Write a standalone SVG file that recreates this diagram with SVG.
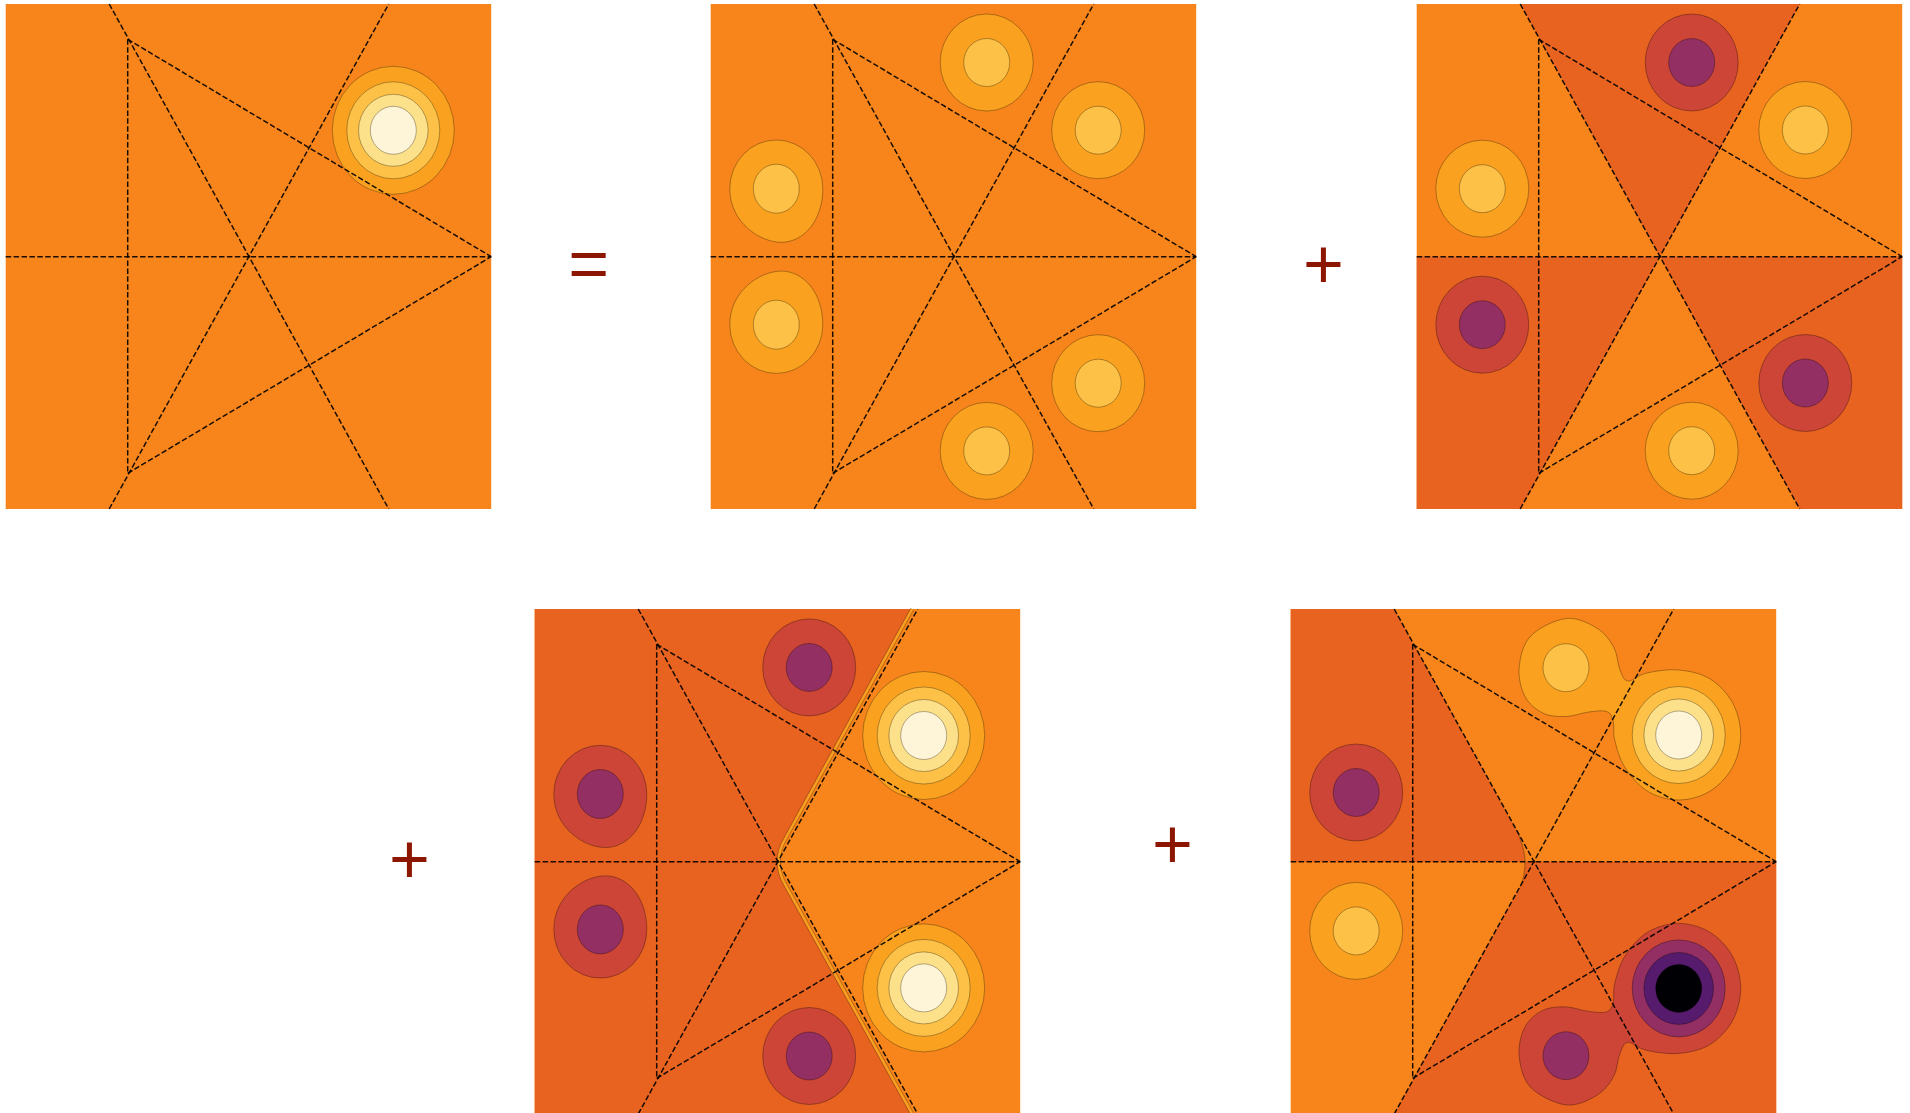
<svg xmlns="http://www.w3.org/2000/svg" xmlns:xlink="http://www.w3.org/1999/xlink" width="1910" height="1113" viewBox="0 0 1910 1113">
<style>
.dl{fill:none;stroke:#000;stroke-width:1.5;stroke-dasharray:5.5 2.4;stroke-opacity:.9}
.c{stroke:#000;stroke-opacity:.3;stroke-width:1}
.lt{fill:#F8851B}.dk{fill:#E8631F}
.p1{fill:#FAA21F}.p2{fill:#FCC146}.p3{fill:#FDE08A}.p4{fill:#FEF5D9}
.n1{fill:#CC4537}.n2{fill:#932F62}.n3{fill:#561B6C}.n4{fill:#000004}
.sign{font-family:"Liberation Sans",Arial,sans-serif;font-size:70px;fill:#8C1600;text-anchor:middle}
</style>
<defs>
<g id="grid" class="dl">
<line x1="0" y1="252.7" x2="485.5" y2="252.7"/>
<line x1="122" y1="35.3" x2="122" y2="469.3"/>
<line x1="122" y1="35.3" x2="485.5" y2="252.7"/>
<line x1="122" y1="469.3" x2="485.5" y2="252.7"/>
<line x1="103.5" y1="0" x2="383" y2="505"/>
<line x1="103.5" y1="505" x2="383" y2="0"/>
</g>
<g id="bright4"><ellipse class="c p1" rx="61" ry="64"/><ellipse class="c p2" rx="46.5" ry="48.5"/><ellipse class="c p3" rx="34.8" ry="36"/><ellipse class="c p4" rx="23" ry="24"/></g>
<g id="light2"><ellipse class="c p1" rx="46.5" ry="48.5"/><ellipse class="c p2" rx="23" ry="24"/></g>
<g id="dark2"><ellipse class="c n1" rx="46.5" ry="48.5"/><ellipse class="c n2" rx="23" ry="24"/></g>
<path id="egg" d="M-46.5,0 A46.5 48.7 0 0 1 46.5,0 C46.5,31 28,53.6 5,53.6 C-16,53.6 -46.5,34 -46.5,0 Z"/>
<g id="eggLight"><use xlink:href="#egg" href="#egg" class="c p1"/><ellipse class="c p2" rx="23" ry="24.5"/></g>
<g id="eggDark"><use xlink:href="#egg" href="#egg" class="c n1"/><ellipse class="c n2" rx="23" ry="24.5"/></g>
<path id="blob" d="M275.3,9.5 C286.3,8.17 298.05,14.25 306,19 C313.95,23.75 319.17,31.17 323,38 C326.83,44.83 326.67,54.33 329,60 C331.33,65.67 332.5,71.33 337,72 C341.5,72.67 347.5,65.83 356,64 C364.5,62.17 377.5,60.05 388,61 C398.5,61.95 410.05,64.28 419,69.7 C427.95,75.12 436.53,84.12 441.7,93.5 C446.87,102.88 450,115.17 450,126 C450,136.83 446.87,149.12 441.7,158.5 C436.53,167.88 427.95,176.88 419,182.3 C410.05,187.72 398.33,191 388,191 C377.67,191 365.95,187.72 357,182.3 C348.05,176.88 339.8,167.05 334.3,158.5 C328.8,149.95 325.97,138.75 324,131 C322.03,123.25 323.83,116.75 322.5,112 C321.17,107.25 320.08,104 316,102.5 C311.92,101 304.83,102.17 298,103 C291.17,103.83 282.67,107.33 275,107.5 C267.33,107.67 258.83,107.42 252,104 C245.17,100.58 237.92,94.67 234,87 C230.08,79.33 227.5,68 228.5,58 C229.5,48 232.2,35.08 240,27 C247.8,18.92 264.3,10.83 275.3,9.5 Z"/>
</defs>

<g id="panel1" transform="translate(5.7,4)">
<rect class="lt" width="485.5" height="505"/>
<use xlink:href="#bright4" href="#bright4" x="387.6" y="126.3"/>
<use xlink:href="#grid" href="#grid"/>
</g>

<g id="panel2" transform="translate(710.7,4)">
<rect class="lt" width="485.5" height="505"/>
<use href="#light2" xlink:href="#light2" x="276" y="58.5"/>
<use href="#light2" xlink:href="#light2" x="387.5" y="126.2"/>
<use href="#eggLight" xlink:href="#eggLight" transform="translate(65.6,184.7)"/>
<use href="#eggLight" xlink:href="#eggLight" transform="translate(65.6,320.7) scale(1,-1)"/>
<use href="#light2" xlink:href="#light2" x="387.5" y="379.2"/>
<use href="#light2" xlink:href="#light2" x="276" y="446.9"/>
<use xlink:href="#grid" href="#grid"/>
</g>

<g id="panel3" transform="translate(1416.7,4)">
<rect class="lt" width="485.5" height="505"/>
<polygon class="dk" points="103.5,0 383,0 243.3,252.7"/>
<polygon class="dk" points="0,252.7 243.3,252.7 103.5,505 0,505"/>
<polygon class="dk" points="243.3,252.7 485.5,252.7 485.5,505 383,505"/>
<use href="#dark2" xlink:href="#dark2" x="275" y="58.5"/>
<use href="#light2" xlink:href="#light2" x="388.6" y="126"/>
<use href="#light2" xlink:href="#light2" x="65.6" y="184.7"/>
<use href="#dark2" xlink:href="#dark2" x="65.6" y="320.7"/>
<use href="#dark2" xlink:href="#dark2" x="388.6" y="379"/>
<use href="#light2" xlink:href="#light2" x="275" y="446.7"/>
<use xlink:href="#grid" href="#grid"/>
</g>

<g id="panel4" transform="translate(534.7,609)">
<rect class="lt" width="485.5" height="505"/>
<path class="dk" d="M0,0 H377.5 L251,229 Q237,252.7 251,276.4 L377.5,505 H0 Z"/>
<path d="M377.5,0 L251,229 Q237,252.7 251,276.4 L377.5,505" fill="none" stroke="#7A4410" stroke-opacity=".45" stroke-width="4.4"/>
<path d="M377.5,0 L251,229 Q237,252.7 251,276.4 L377.5,505" fill="none" stroke="#F9A020" stroke-width="2.4"/>
<use href="#dark2" xlink:href="#dark2" x="274.5" y="58.4"/>
<use href="#bright4" xlink:href="#bright4" x="389" y="126.5"/>
<use href="#eggDark" xlink:href="#eggDark" transform="translate(65.6,185)"/>
<use href="#eggDark" xlink:href="#eggDark" transform="translate(65.6,320.4) scale(1,-1)"/>
<use href="#bright4" xlink:href="#bright4" x="389" y="378.9"/>
<use href="#dark2" xlink:href="#dark2" x="274.5" y="447"/>
<use xlink:href="#grid" href="#grid"/>
</g>

<g id="panel5" transform="translate(1290.7,609)">
<rect class="lt" width="485.5" height="505"/>
<path class="dk" d="M0,0 L103.5,0 L225.6,221 C229.5,228 234.3,243 234.3,252.7 L0,252.7 Z"/>
<path class="dk" d="M103.5,505 L229.4,277.7 C233.3,270.7 234.3,262 234.3,252.7 L485.5,252.7 L485.5,505 Z"/>
<path d="M225.6,221 C229.5,228 234.3,243 234.3,252.7 C234.3,262 233.3,270.7 229.4,277.7" fill="none" stroke="#6A3A08" stroke-opacity=".5" stroke-width="1.2"/>
<use href="#dark2" xlink:href="#dark2" x="65.5" y="183.5"/>
<use href="#light2" xlink:href="#light2" x="65.5" y="321.9"/>
<use href="#blob" xlink:href="#blob" class="c p1"/>
<ellipse class="c p2" cx="275.3" cy="58.7" rx="23" ry="24"/>
<ellipse class="c p2" cx="388" cy="126" rx="46.5" ry="48.5"/>
<ellipse class="c p3" cx="388" cy="126" rx="34.8" ry="36"/>
<ellipse class="c p4" cx="388" cy="126" rx="23" ry="24"/>
<use href="#blob" xlink:href="#blob" class="c n1" transform="translate(0,505.4) scale(1,-1)"/>
<ellipse class="c n2" cx="275.3" cy="446.7" rx="23" ry="24"/>
<ellipse class="c n2" cx="388" cy="379.4" rx="46.5" ry="48.5"/>
<ellipse class="c n3" cx="388" cy="379.4" rx="34.8" ry="36"/>
<ellipse class="c n4" cx="388" cy="379.4" rx="23" ry="24"/>
<use xlink:href="#grid" href="#grid"/>
</g>

<g id="signs">
<text class="sign" x="588.7" y="288">=</text>
<text class="sign" x="1323.5" y="288">+</text>
<text class="sign" x="409.5" y="883">+</text>
<text class="sign" x="1172.5" y="867.5">+</text>
</g>
</svg>
